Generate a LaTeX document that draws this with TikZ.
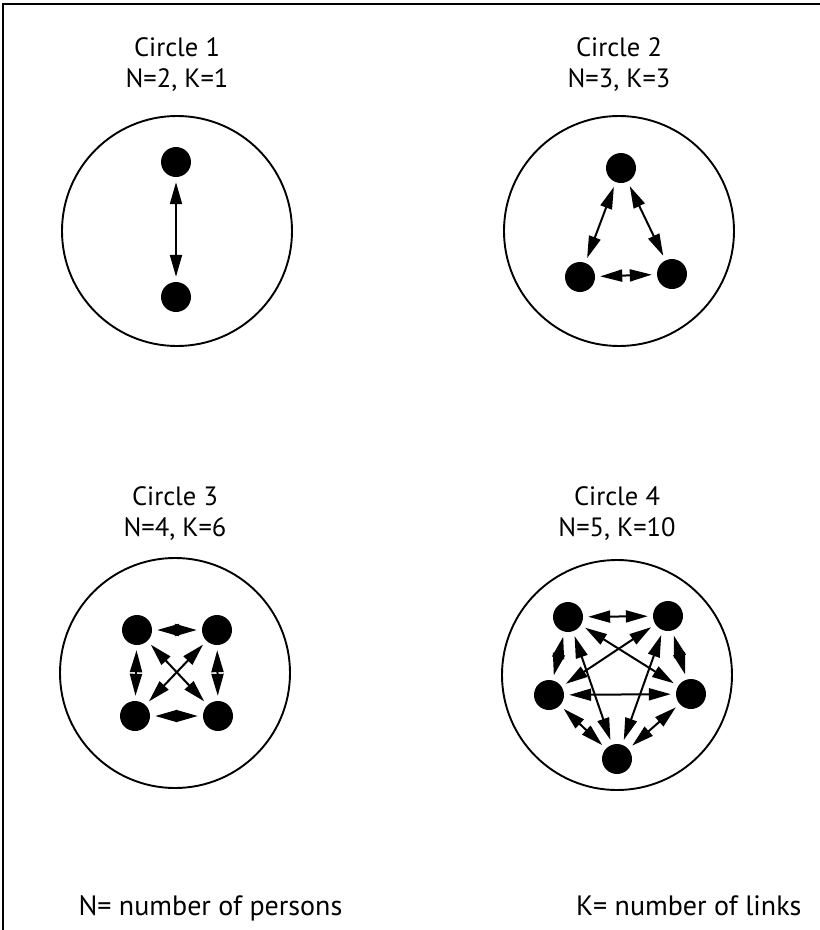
\documentclass[tikz,border=0pt]{standalone}
\usepackage{fontspec}
\setmainfont{PT Sans}
\usetikzlibrary{arrows.meta}
\begin{document}
\begin{tikzpicture}[x=1pt,y=-1pt,
  person/.style={circle,fill=black,inner sep=0pt,minimum size=30pt},
  ring/.style={circle,draw=black,line width=1.9pt,inner sep=0pt,minimum size=230pt},
  link/.style={line width=2pt,
    {Triangle[length=22pt,width=12pt]}-{Triangle[length=22pt,width=12pt]},
    shorten <=5pt,shorten >=5pt},
  title/.style={anchor=base,font=\fontsize{26.5}{30}\selectfont},
  legend/.style={font=\fontsize{28}{32}\selectfont}]
\useasboundingbox (0,0) rectangle (820,930);

% open frame: left and top edges
\draw[line width=2.4pt] (3,930) -- (3,4) -- (820,4);

% ---- Circle 1 ----
\node[title] (t1) at (177,56) {Circle 1};
\node[title] (s1) at (177,87) {N=2, K=1};
\node[ring] (r1) at (177,231) {};
\node[person] (a1) at (176,162) {};
\node[person] (a2) at (176,297) {};
\draw[link] (a1) -- (a2);

% ---- Circle 2 ----
\node[title] (t2) at (619,56) {Circle 2};
\node[title] (s2) at (619,87) {N=3, K=3};
\node[ring] (r2) at (619,231) {};
\node[person] (b1) at (621,168) {};
\node[person] (b2) at (580,277) {};
\node[person] (b3) at (672,274) {};
\draw[link] (b1) -- (b2);
\draw[link] (b1) -- (b3);
\draw[link] (b2) -- (b3);

% ---- Circle 3 ----
\node[title] (t3) at (175,505) {Circle 3};
\node[title] (s3) at (175,536) {N=4, K=6};
\node[ring] (r3) at (175,673) {};
\node[person] (c1) at (137,630) {};
\node[person] (c2) at (217,630) {};
\node[person] (c3) at (135,716) {};
\node[person] (c4) at (218,716) {};
\draw[link] (c1) -- (c2);
\draw[link] (c1) -- (c3);
\draw[link] (c1) -- (c4);
\draw[link] (c2) -- (c3);
\draw[link] (c2) -- (c4);
\draw[link] (c3) -- (c4);

% ---- Circle 4 ----
\node[title] (t4) at (617,505) {Circle 4};
\node[title] (s4) at (617,536) {N=5, K=10};
\node[ring] (r4) at (617,675) {};
\node[person] (d1) at (568,617) {};
\node[person] (d2) at (668,616) {};
\node[person] (d3) at (549,695) {};
\node[person] (d4) at (691,694) {};
\node[person] (d5) at (617,759) {};
\foreach \p/\q in {d1/d2,d1/d3,d1/d4,d1/d5,d2/d3,d2/d4,d2/d5,d3/d4,d3/d5,d4/d5}
  \draw[link] (\p) -- (\q);

% ---- legend ----
\node[legend,anchor=base west] (nl) at (75,915) {N= number of persons};
\node[legend,anchor=base east] (kl) at (805,915) {K= number of links};
\end{tikzpicture}
\end{document}
